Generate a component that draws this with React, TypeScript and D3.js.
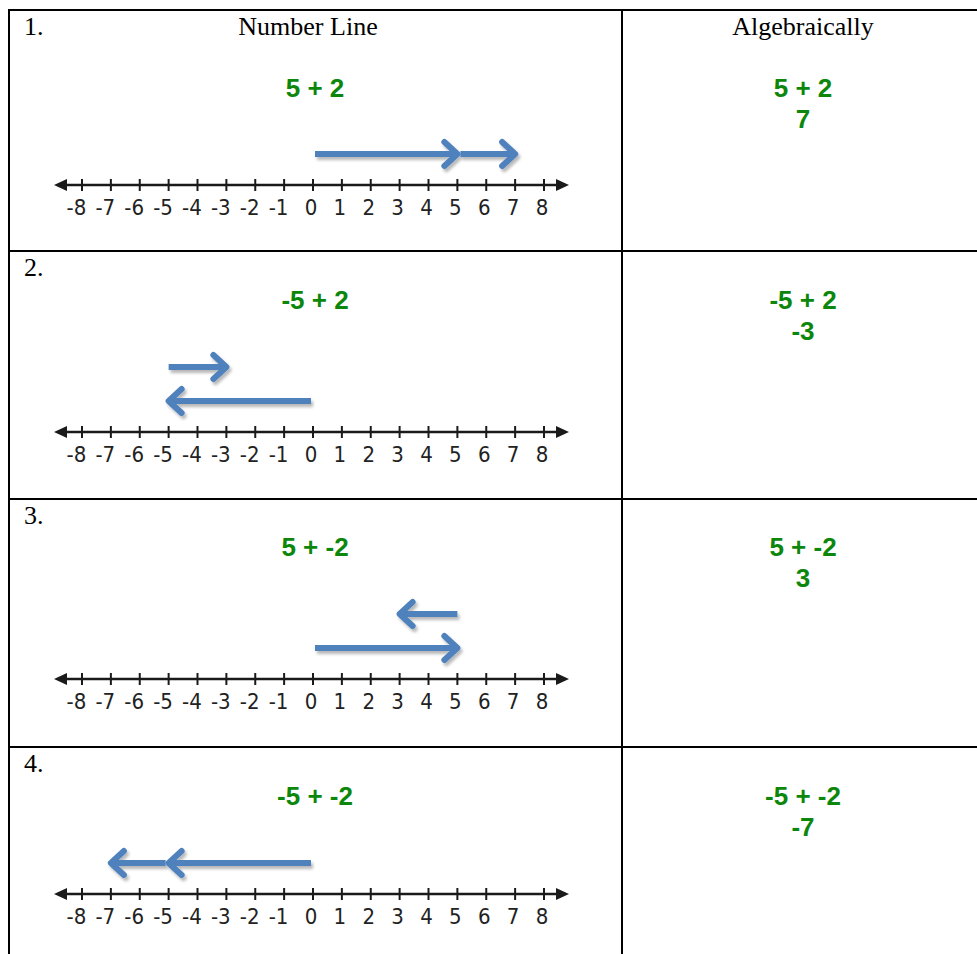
import { useEffect, useRef } from "react";
import * as d3 from "d3";

// addition problems, one per table row
const rowLabels = ["1.", "2.", "3.", "4."];
const headers = ["Number Line", "Algebraically"];
const firstAddend = [5, -5, 5, -5];
const secondAddend = [2, 2, -2, -2];
const problems = ["5 + 2", "-5 + 2", "5 + -2", "-5 + -2"];
const sums = ["7", "-3", "3", "-7"];
const ticks = [-8, -7, -6, -5, -4, -3, -2, -1, 0, 1, 2, 3, 4, 5, 6, 7, 8];

const W = 977,
  H = 954;
const rowTops = [10, 251, 499, 747];
const axisOffset = [175, 181, 180, 147];
const problemOffset = [87, 58, 57, 58];
const colX = 622,
  leftX = 9;
const green = "#0c870c",
  blue = "#4f81bd";
const serif = "'Liberation Serif', 'Times New Roman', serif";
const sans = "'Liberation Sans', Arial, sans-serif";

export default function App() {
  const ref = useRef<SVGSVGElement>(null);

  useEffect(() => {
    const svg = d3.select(ref.current!);
    svg.selectAll("*").remove();

    const x = d3.scaleLinear().domain([-8, 8]).range([82, 544]);

    svg
      .append("defs")
      .append("filter")
      .attr("id", "shadow")
      .attr("x", "-20%")
      .attr("y", "-100%")
      .attr("width", "140%")
      .attr("height", "300%")
      .append("feDropShadow")
      .attr("dx", 2)
      .attr("dy", 3)
      .attr("stdDeviation", 1.8)
      .attr("flood-color", "#000")
      .attr("flood-opacity", 0.28);

    // table grid
    const grid = svg.append("g").attr("stroke", "#000").attr("stroke-width", 2);
    rowTops.forEach((t) =>
      grid.append("line").attr("x1", leftX - 1).attr("x2", W).attr("y1", t).attr("y2", t)
    );
    grid.append("line").attr("x1", leftX).attr("x2", leftX).attr("y1", rowTops[0] - 1).attr("y2", H);
    grid.append("line").attr("x1", colX).attr("x2", colX).attr("y1", rowTops[0] - 1).attr("y2", H);

    // headers
    [308, 803].forEach((cx, i) =>
      svg
        .append("text")
        .attr("x", cx)
        .attr("y", 35)
        .attr("text-anchor", "middle")
        .attr("font-family", serif)
        .attr("font-size", 26)
        .text(headers[i])
    );

    rowTops.forEach((top, i) => {
      const g = svg.append("g");
      const axisY = top + axisOffset[i];

      g.append("text")
        .attr("x", 24)
        .attr("y", top + 25)
        .attr("font-family", serif)
        .attr("font-size", 26)
        .text(rowLabels[i]);

      g.append("text")
        .attr("x", 315)
        .attr("y", top + problemOffset[i])
        .attr("text-anchor", "middle")
        .attr("font-family", sans)
        .attr("font-weight", "bold")
        .attr("font-size", 26)
        .attr("fill", green)
        .text(problems[i]);

      // algebra column
      const alg = g
        .append("text")
        .attr("text-anchor", "middle")
        .attr("font-family", sans)
        .attr("font-weight", "bold")
        .attr("font-size", 26)
        .attr("fill", green);
      alg.append("tspan").attr("x", 803).attr("y", top + problemOffset[i]).text(problems[i]);
      alg.append("tspan").attr("x", 803).attr("y", top + problemOffset[i] + 31).text(sums[i]);

      // number line
      const axis = g.append("g").attr("stroke", "#1a1a1a");
      axis
        .append("line")
        .attr("x1", 62)
        .attr("x2", 562)
        .attr("y1", axisY)
        .attr("y2", axisY)
        .attr("stroke-width", 2.5);
      axis
        .selectAll("line.tick")
        .data(ticks)
        .join("line")
        .attr("class", "tick")
        .attr("x1", (d) => x(d))
        .attr("x2", (d) => x(d))
        .attr("y1", axisY - 6)
        .attr("y2", axisY + 6)
        .attr("stroke-width", 2);
      g.append("path")
        .attr("d", `M54,${axisY}L67,${axisY - 6}L67,${axisY + 6}Z`)
        .attr("fill", "#1a1a1a");
      g.append("path")
        .attr("d", `M569,${axisY}L556,${axisY - 6}L556,${axisY + 6}Z`)
        .attr("fill", "#1a1a1a");
      g.append("g")
        .selectAll("text")
        .data(ticks)
        .join("text")
        .attr("x", (d) => x(d) + 4.3)
        .attr("y", axisY + 30)
        .attr("text-anchor", "end")
        .attr("font-family", "'DejaVu Sans Condensed', 'DejaVu Sans', Verdana, sans-serif")
        .attr("font-stretch", "condensed")
        .attr("font-size", 22)
        .attr("fill", "#222")
        .text((d) => String(d));

      // arrows: 0 -> a, then a -> a + b
      const a = firstAddend[i],
        b = secondAddend[i];
      const sameWay = Math.sign(a) === Math.sign(b);
      const dir1 = Math.sign(a),
        dir2 = Math.sign(b);
      const arrows = [
        { x0: x(0) + 2 * dir1, x1: x(a), dir: dir1, y: axisY - 31 },
        {
          x0: x(a) + (sameWay ? 3 * dir2 : 0),
          x1: x(a + b),
          dir: dir2,
          y: sameWay ? axisY - 31 : axisY - 65,
        },
      ];
      const ag = g
        .append("g")
        .attr("filter", "url(#shadow)")
        .attr("fill", "none")
        .attr("stroke", blue)
        .attr("stroke-width", 6)
        .attr("stroke-linejoin", "round");
      arrows.forEach((ar) => {
        ag.append("line")
          .attr("x1", ar.x0)
          .attr("x2", ar.x1 - 3 * ar.dir)
          .attr("y1", ar.y)
          .attr("y2", ar.y);
        ag.append("path")
          .attr("stroke-linecap", "round")
          .attr(
            "d",
            `M${ar.x1 - 13 * ar.dir},${ar.y - 12}L${ar.x1},${ar.y}L${ar.x1 - 13 * ar.dir},${ar.y + 12}`
          );
      });
    });
  }, []);

  return (
    <svg
      ref={ref}
      width={W}
      height={H}
      style={{ position: "absolute", left: 0, top: 0, background: "#fff" }}
    />
  );
}
